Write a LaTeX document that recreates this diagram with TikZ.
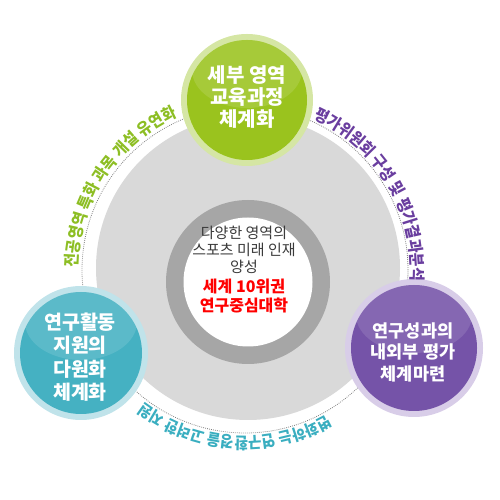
\documentclass[tikz,border=0pt]{standalone}
\usepackage{fontspec}
\setmainfont{Noto Sans CJK KR}
\newfontfamily\arcfont{Noto Sans CJK KR}[FakeStretch=0.9]
\usetikzlibrary{decorations.text}
\definecolor{biggray}{HTML}{D9D9D9}
\definecolor{ringgray}{HTML}{A6A6A6}
\definecolor{dotgray}{HTML}{7F7F7F}
\definecolor{txtgray}{HTML}{3A3A3A}
\definecolor{grn}{HTML}{9AC31E}
\definecolor{grnhalo}{HTML}{D5E6A4}
\definecolor{grntxt}{HTML}{8DBE24}
\definecolor{teal}{HTML}{45B1C2}
\definecolor{tealhalo}{HTML}{C0E3EA}
\definecolor{tealtxt}{HTML}{3AAEC0}
\definecolor{purp}{HTML}{7553A8}
\definecolor{purphalo}{HTML}{D8CDE8}
\definecolor{purptxt}{HTML}{6A3E9F}
\definecolor{red}{HTML}{FF0000}
\newcommand\arcL{\arcfont\fontsize{16.5}{16.5}\selectfont\bfseries\color{grntxt}}
\newcommand\arcR{\arcfont\fontsize{16.5}{16.5}\selectfont\bfseries\color{purptxt}}
\newcommand\arcB{\arcfont\fontsize{16}{16}\selectfont\bfseries\color{tealtxt}}
\tikzset{
  disc/.style={circle, inner sep=0pt, minimum size=#1},
  bubbletext/.style 2 args={align=center, text=white, font=\bfseries\fontsize{#1}{#2}\selectfont},
  dotline/.style={dotgray, line width=0.8pt, dash pattern=on 0.8pt off 1.2pt},
}
\begin{document}
\begin{tikzpicture}[x=1pt,y=1pt]
\useasboundingbox (0,0) rectangle (500,500);
\coordinate (C) at (245,230);
% big gray disc
\node[disc=304pt, fill=biggray] (big) at (248,232) {};
% dotted circle
\draw[dotline] (C) circle (163);
% ring and core
\node[disc=164pt, fill=ringgray] (ring) at (248,218) {};
\node[disc=129pt, fill=white] (core) at (248,218) {};
\node[align=center, text=txtgray, font=\fontsize{15}{17}\selectfont] (ctop) at (244,250) {다양한 영역의\\스포츠 미래 인재\\양성};
\node[align=center, text=red, font=\bfseries\fontsize{16}{19}\selectfont] (cbot) at (244,203.5) {세계 10위권\\연구중심대학};
% green bubble
\node[disc=132pt, fill=grnhalo] (ghalo) at (247,400) {};
\node[disc=120pt, fill=grn] (gdisc) at (247,400) {};
\begin{scope}
\clip (247,400) circle (60);
\fill[white, opacity=0.12] (247,430) ellipse (55 and 38);
\end{scope}
\node[bubbletext={20}{22}] (gtext) at (247,403) {세부 영역\\교육과정\\체계화};
% teal bubble
\node[disc=134pt, fill=tealhalo] (thalo) at (81,147) {};
\node[disc=122pt, fill=teal] (tdisc) at (81,147) {};
\begin{scope}
\clip (81,147) circle (61);
\fill[white, opacity=0.12] (81,178) ellipse (56 and 38);
\end{scope}
\node[bubbletext={19.5}{23.5}] (ttext) at (80,143) {연구활동\\지원의\\다원화\\체계화};
% purple bubble
\node[disc=138pt, fill=purphalo] (phalo) at (414,152) {};
\node[disc=126pt, fill=purp] (pdisc) at (414,152) {};
\begin{scope}
\clip (414,152) circle (63);
\fill[white, opacity=0.12] (414,185) ellipse (58 and 38);
\end{scope}
\node[bubbletext={17.5}{21.5}] (ptext) at (413,148) {연구성과의\\내외부 평가\\체계마련};
% arc texts
\path[decorate, decoration={text along path, text align=center,
  text={|\arcL|전공영역 특화 과목 개설 유연화}}]
  (C) ++(198:167) arc (198:95:167);
\path[decorate, decoration={text along path, text align=center,
  text={|\arcR|평가위원회 구성 및 평가결과분석}}]
  (C) ++(82:166) arc (82:-20:166);
\path[decorate, decoration={text along path, text align=center,
  text={|\arcB|변화하는 연구환경을 고려한 지원}}]
  (C) ++(-43:167) arc (-43:-145:167);
\end{tikzpicture}
\end{document}
